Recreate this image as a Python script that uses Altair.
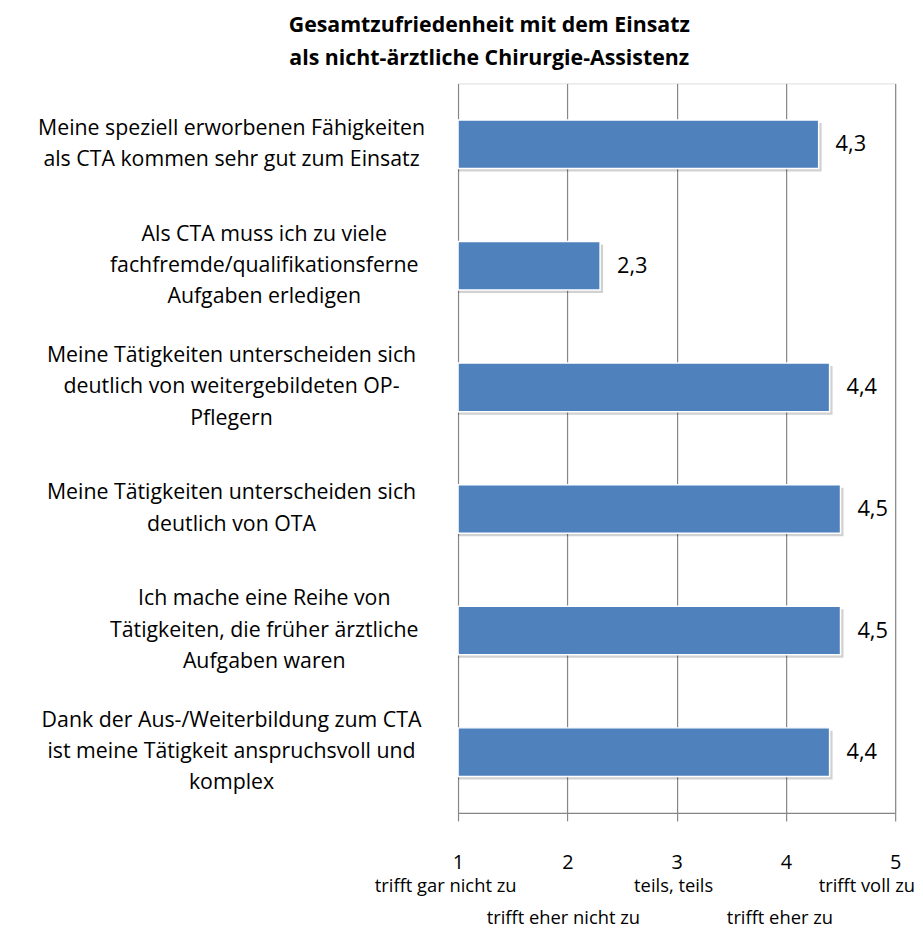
import altair as alt
import pandas as pd

categories = [
    "Meine speziell erworbenen Fähigkeiten|als CTA kommen sehr gut zum Einsatz",
    "Als CTA muss ich zu viele|fachfremde/qualifikationsferne|Aufgaben erledigen",
    "Meine Tätigkeiten  unterscheiden sich|deutlich von weitergebildeten OP-|Pflegern",
    "Meine Tätigkeiten  unterscheiden sich|deutlich von OTA",
    "Ich mache eine  Reihe von|Tätigkeiten, die früher ärztliche|Aufgaben waren",
    "Dank der Aus-/Weiterbildung zum CTA|ist meine Tätigkeit  anspruchsvoll und|komplex",
]
values = [4.3, 2.3, 4.4, 4.5, 4.5, 4.4]

tick_values = [1, 2, 3, 4, 5]
scale_texts = ["trifft gar nicht zu", "trifft eher nicht zu", "teils, teils",
               "trifft eher zu", "trifft voll zu"]
scale_rows = [1, 2, 1, 2, 1]

title_lines = ["Gesamtzufriedenheit mit dem Einsatz",
               "als nicht-ärztliche  Chirurgie-Assistenz"]

FONT = "Open Sans"
W, H = 441, 736
LH = 31.5

df = pd.DataFrame({"item": categories, "value": values})
sub = pd.DataFrame({"tick": tick_values, "text": scale_texts, "row": scale_rows})

label_expr = "split(datum.label, '|')"
shifted = "indexof(datum.value, 'Als CTA') == 0 || indexof(datum.value, 'Ich mache') == 0"
two_lines = "length(split(datum.value, '|')) == 2"

x_scale = alt.Scale(domain=[1, 5], nice=False, zero=False)
y_enc = alt.Y("item:N", sort=categories, title=None,
              axis=alt.Axis(labelExpr=label_expr, labelAlign="center",
                            labelBaseline="middle",
                            labelPadding={"condition": {"test": shifted, "value": 196},
                                          "value": 229},
                            labelOffset={"condition": {"test": two_lines, "value": -LH / 2},
                                         "value": -LH},
                            ticks=False,
                            domain=False, labelFont=FONT, labelFontSize=21.5,
                            labelLineHeight=LH, labelColor="#000000",
                            labelLimit=0))

base = alt.Chart(df)

shadow = base.mark_bar(color="#000000", opacity=0.18, size=49, xOffset=3, yOffset=3).encode(
    x=alt.X("value:Q", scale=x_scale),
    x2=alt.datum(1),
    y=y_enc,
)

bars = base.mark_bar(color="#4F81BD", stroke="#FFFFFF", strokeWidth=1.5, size=49).encode(
    x=alt.X("value:Q", scale=x_scale, title=None,
            axis=alt.Axis(values=tick_values, format="d", grid=True, gridColor="#868686",
                          gridWidth=1.2, domainColor="#868686", domainWidth=1.2,
                          tickColor="#868686", tickWidth=1.2, tickSize=8,
                          labelPadding=32, labelFont=FONT, labelFontSize=20,
                          labelColor="#000000", labelFlush=False)),
    x2=alt.datum(1),
    y=y_enc,
)

labels = base.mark_text(align="left", baseline="middle", dx=17, font=FONT,
                        fontSize=22, color="#000000").transform_calculate(
    lbl="replace(format(datum.value, '.1f'), '.', ',')"
).encode(
    x=alt.X("value:Q", scale=x_scale),
    y=y_enc,
    text="lbl:N",
)

subbase = alt.Chart(sub)

def sublayer(filt, align, dx, row_y):
    return subbase.transform_filter(filt).mark_text(
        align=align, baseline="middle", dx=dx, font=FONT, fontSize=18.5,
        color="#000000").encode(
        x=alt.X("tick:Q", scale=x_scale),
        y=alt.value(row_y),
        text="text:N",
    )

sub_first = sublayer("datum.tick == 1", "right", 59, H + 74)
sub_mid1 = sublayer("datum.tick == 3", "center", -3, H + 74)
sub_last = sublayer("datum.tick == 5", "right", 20, H + 74)
sub_r2a = sublayer("datum.tick == 2", "center", -4, H + 106)
sub_r2b = sublayer("datum.tick == 4", "center", -6, H + 106)

chart = alt.layer(shadow, bars, labels, sub_first, sub_mid1, sub_last, sub_r2a, sub_r2b).properties(
    width=W, height=H,
    title=alt.TitleParams(text=title_lines, font=FONT, fontSize=21.5, fontWeight="bold",
                          anchor="middle", frame="group", dx=-189, offset=14,
                          lineHeight=33, color="#000000"),
    autosize=alt.AutoSizeParams(type="none"),
    padding={"left": 454, "top": 72, "right": 20, "bottom": 112},
).configure_view(stroke=None).configure(background="#FFFFFF")

chart.save("out.html", embed_options={"renderer": "svg", "actions": False})
